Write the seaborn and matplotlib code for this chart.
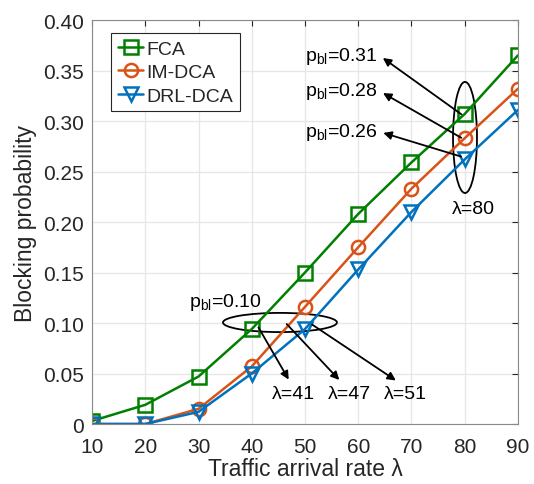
import numpy as np
import pandas as pd
import matplotlib
matplotlib.use('Agg')
import matplotlib.pyplot as plt
import seaborn as sns
from matplotlib.patches import Ellipse

# values
rates = [10, 20, 30, 40, 50, 60, 70, 80, 90]
fca = [0.003, 0.019, 0.047, 0.094, 0.150, 0.208, 0.259, 0.307, 0.365]
im_dca = [0.0, 0.0, 0.015, 0.057, 0.116, 0.175, 0.233, 0.283, 0.332]
drl_dca = [0.0, 0.0, 0.012, 0.050, 0.094, 0.153, 0.210, 0.262, 0.311]
series_names = ['FCA', 'IM-DCA', 'DRL-DCA']
y_ticks = [0, 0.05, 0.10, 0.15, 0.20, 0.25, 0.30, 0.35, 0.40]
y_tick_labels = ['0', '0.05', '0.10', '0.15', '0.20', '0.25', '0.30', '0.35', '0.40']

df = pd.DataFrame({
    'rate': rates * 3,
    'prob': fca + im_dca + drl_dca,
    'scheme': [n for n in series_names for _ in rates],
})

sns.set_style('whitegrid')
plt.rcParams['font.family'] = ['Liberation Sans', 'DejaVu Sans']
plt.rcParams['mathtext.fontset'] = 'custom'
plt.rcParams['mathtext.rm'] = 'Liberation Sans'

txt = '#262626'
colors = {'FCA': '#008000', 'IM-DCA': '#D95319', 'DRL-DCA': '#0072BD'}
markers = {'FCA': 's', 'IM-DCA': 'o', 'DRL-DCA': 'v'}

fig = plt.figure(figsize=(5.34, 4.85), dpi=100)
ax = fig.add_axes([0.1723, 0.1237, 0.7977, 0.8330])

for name in series_names:
    sub = df[df['scheme'] == name]
    sns.lineplot(data=sub, x='rate', y='prob', ax=ax, color=colors[name],
                 marker=markers[name], markersize=9.5, mfc='none',
                 mec=colors[name], mew=1.8, linewidth=1.8, label=name)

ax.set_xlim(10, 90)
ax.set_ylim(0, 0.40)
ax.set_xticks(rates)
ax.set_yticks(y_ticks)
ax.set_yticklabels(y_tick_labels)
ax.tick_params(direction='in', length=4, labelsize=15, colors=txt,
               top=True, right=True, width=0.8)
ax.tick_params(axis='x', pad=9)
ax.tick_params(axis='y', pad=6)
ax.grid(True, color='#e6e6e6', linewidth=0.9)
for s in ax.spines.values():
    s.set_color('#8a8a8a')
    s.set_linewidth(0.8)
ax.set_xlabel('Traffic arrival rate λ', fontsize=16.5, color=txt, labelpad=1)
ax.set_ylabel('Blocking probability', fontsize=16.5, color=txt, labelpad=4)

leg = ax.legend(loc='upper left', bbox_to_anchor=(0.045, 0.967), fontsize=14,
                handlelength=1.3, handletextpad=0.15, borderpad=0.35,
                labelspacing=0.3, fancybox=False, framealpha=1,
                edgecolor='#262626', borderaxespad=0)
leg.get_frame().set_linewidth(0.8)
for t in leg.get_texts():
    t.set_color(txt)

# annotations around lambda=80
ax.add_patch(Ellipse((80.05, 0.2837), 4.5, 0.110, fill=False, color='black', lw=1.3))
arr = dict(arrowstyle='-|>', color='black', lw=1.3, mutation_scale=12)
for lab, y0, y1 in [('0.31', 0.305, 0.364), ('0.28', 0.282, 0.329), ('0.26', 0.264, 0.289)]:
    ax.annotate('', xy=(64.2, y1), xytext=(79.8, y0), arrowprops=arr)
    ax.text(63.6, y1 + 0.001, r'p$_{\rm bl}$=' + lab, ha='right', va='center',
            fontsize=14, color='black')
ax.text(81.7, 0.213, 'λ=80', ha='center', va='center', fontsize=14, color='black')

# annotations around p_bl=0.10
ax.add_patch(Ellipse((45.3, 0.1005), 21.4, 0.019, fill=False, color='black', lw=1.3))
ax.text(28.3, 0.121, r'p$_{\rm bl}$=0.10', ha='left', va='center', fontsize=14, color='black')
for lab, x0, y0, x1, xt in [('λ=41', 41.0, 0.098, 47.2, 47.9),
                            ('λ=47', 46.2, 0.101, 56.8, 58.3),
                            ('λ=51', 50.9, 0.100, 67.5, 68.8)]:
    ax.annotate('', xy=(x1, 0.0416), xytext=(x0, y0), arrowprops=arr)
    ax.text(xt, 0.0305, lab, ha='center', va='center', fontsize=14, color='black')

fig.savefig('out.png', dpi=100)
